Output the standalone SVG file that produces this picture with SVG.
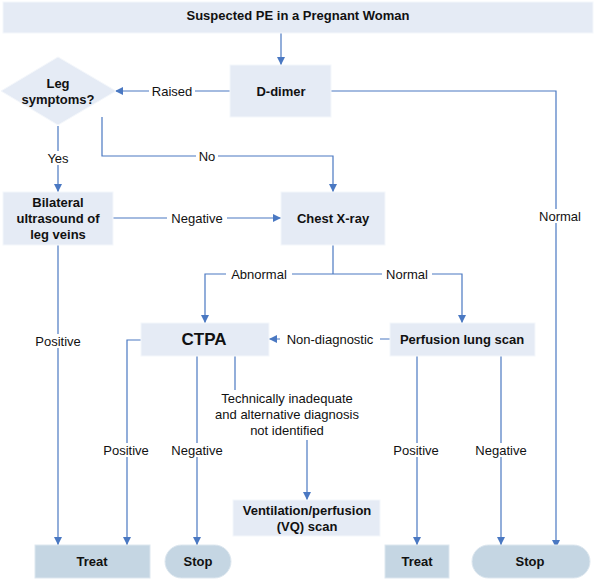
<svg xmlns="http://www.w3.org/2000/svg" width="595" height="579" viewBox="0 0 595 579">
<defs>
<marker id="ah" viewBox="0 0 10 10" refX="10" refY="5" markerWidth="8" markerHeight="8" markerUnits="userSpaceOnUse" orient="auto"><path d="M0,0 L10,5 L0,10 z" fill="#4a78c2"/></marker>
<style>
.box{fill:#e5ebf5;stroke:#f4f7fb;stroke-width:1}
.end{fill:#c5d6e3;stroke:#dde7ef;stroke-width:1}
.t{font-family:"Liberation Sans",Arial,sans-serif;font-size:13px;font-weight:bold;fill:#111;text-anchor:middle;dominant-baseline:central}
.l{font-family:"Liberation Sans",Arial,sans-serif;font-size:13px;fill:#111;text-anchor:middle;dominant-baseline:central}
.c{fill:none;stroke:#4a78c2;stroke-width:1.2}
.a{marker-end:url(#ah)}
.bg{fill:#fff}
</style>
</defs>
<rect width="595" height="579" fill="#fff"/>
<g id="connectors">
<path class="c a" d="M281,33 V65"/>
<path class="c a" d="M230,91 H115"/>
<path class="c a" d="M331,91 H556 V548"/>
<path class="c a" d="M58,126 V192"/>
<path class="c a" d="M102,117 V156 H333 V192"/>
<path class="c a" d="M113,218 H281"/>
<path class="c" d="M333,245 V274"/>
<path class="c a" d="M333,274 H205 V323"/>
<path class="c a" d="M333,274 H462 V323"/>
<path class="c a" d="M390,339 H269"/>
<path class="c a" d="M58,245 V545"/>
<path class="c a" d="M141,340 H127 V545"/>
<path class="c a" d="M197,356 V545"/>
<path class="c" d="M235,356 V390"/>
<path class="c a" d="M307,440 V500"/>
<path class="c a" d="M417,356 V545"/>
<path class="c a" d="M501,356 V545"/>
<g id="labels">
<rect class="bg" x="149" y="84" width="46" height="14"/><text class="l" x="172" y="91">Raised</text>
<rect class="bg" x="535" y="209" width="50" height="14"/><text class="l" x="560" y="216">Normal</text>
<rect class="bg" x="43" y="151" width="30" height="14"/><text class="l" x="58" y="158">Yes</text>
<rect class="bg" x="196" y="149" width="22" height="14"/><text class="l" x="207" y="156">No</text>
<rect class="bg" x="167" y="211" width="60" height="14"/><text class="l" x="197" y="218">Negative</text>
<rect class="bg" x="226" y="267" width="66" height="14"/><text class="l" x="259" y="274">Abnormal</text>
<rect class="bg" x="382" y="267" width="50" height="14"/><text class="l" x="407" y="274">Normal</text>
<rect class="bg" x="280" y="332" width="100" height="14"/><text class="l" x="330" y="339">Non-diagnostic</text>
<rect class="bg" x="31" y="334" width="54" height="14"/><text class="l" x="58" y="341">Positive</text>
<rect class="bg" x="99" y="443" width="54" height="14"/><text class="l" x="126" y="450">Positive</text>
<rect class="bg" x="167" y="443" width="60" height="14"/><text class="l" x="197" y="450">Negative</text>
<rect class="bg" x="389" y="443" width="54" height="14"/><text class="l" x="416" y="450">Positive</text>
<rect class="bg" x="470" y="443" width="62" height="14"/><text class="l" x="501" y="450">Negative</text>
<text class="l" x="287" y="398">Technically inadequate</text>
<text class="l" x="287" y="414">and alternative diagnosis</text>
<text class="l" x="287" y="430">not identified</text>
</g>
</g>
<g id="n-start"><rect class="box" x="3" y="2" width="590" height="31"/><text class="t" x="298" y="15">Suspected PE in a Pregnant Woman</text></g>
<g id="n-ddimer"><rect class="box" x="230" y="65" width="101" height="52"/><text class="t" x="281" y="91">D-dimer</text></g>
<g id="n-leg"><polygon class="box" points="58,57 116,91 58,125 1,91"/><text class="t" x="58" y="83">Leg</text><text class="t" x="58" y="99">symptoms?</text></g>
<g id="n-us"><rect class="box" x="3" y="192" width="110" height="53"/><text class="t" x="58" y="202">Bilateral</text><text class="t" x="58" y="218">ultrasound of</text><text class="t" x="58" y="234">leg veins</text></g>
<g id="n-cxr"><rect class="box" x="281" y="192" width="104" height="53"/><text class="t" x="333" y="218">Chest X-ray</text></g>
<g id="n-ctpa"><rect class="box" x="141" y="323" width="128" height="33"/><text class="t" x="204" y="339" style="font-size:17px">CTPA</text></g>
<g id="n-perf"><rect class="box" x="390" y="323" width="145" height="33"/><text class="t" x="462" y="339">Perfusion lung scan</text></g>
<g id="n-vq"><rect class="box" x="233" y="500" width="147" height="36"/><text class="t" x="307" y="510">Ventilation/perfusion</text><text class="t" x="307" y="526">(VQ) scan</text></g>
<g id="n-treat1"><rect class="end" x="35" y="545" width="115" height="33"/><text class="t" x="92" y="561">Treat</text></g>
<g id="n-stop1"><rect class="end" x="165" y="545" width="66" height="33" rx="16.5"/><text class="t" x="198" y="561">Stop</text></g>
<g id="n-treat2"><rect class="end" x="385" y="545" width="64" height="33"/><text class="t" x="417" y="561">Treat</text></g>
<g id="n-stop2"><rect class="end" x="472" y="545" width="118" height="33" rx="16.5"/><text class="t" x="530" y="561">Stop</text></g>
</svg>
